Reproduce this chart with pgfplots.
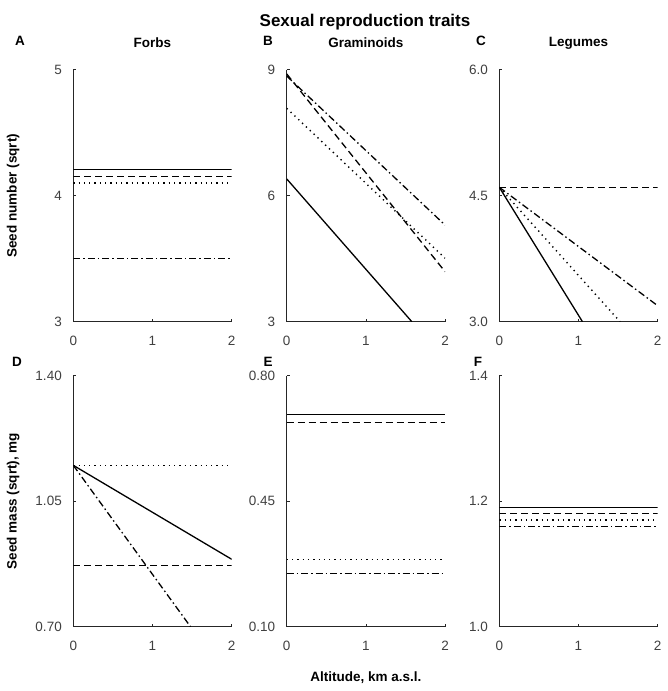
\documentclass[border=0pt]{standalone}
\usepackage{fontspec}
\setmainfont{Liberation Sans}
\usepackage{pgfplots}
\pgfplotsset{compat=1.18}

\definecolor{ticktext}{RGB}{64,64,64}

\pgfplotsset{
  panel/.style={
    scale only axis, width=158.4pt,
    xmin=0, xmax=2, xtick={0,1,2},
    axis x line*=bottom, axis y line*=left,
    axis line style={-, black!85, line width=0.8pt},
    tick align=inside, major tick length=3pt,
    tick style={black!85, line width=0.6pt},
    /pgf/number format/assume math mode=true,
    ticklabel style={font=\fontsize{13.5}{14}\selectfont, text=ticktext},
    xticklabel style={yshift=-11pt},
    yticklabel style={xshift=-8pt},
    title style={font=\fontsize{13.5}{15}\selectfont\bfseries, anchor=center, at={(axis description cs:0.5,1.082)}},
    ylabel style={font=\fontsize{13.5}{15}\selectfont\bfseries, anchor=center, at={(axis description cs:-0.38,0.5)}},
    xlabel style={font=\fontsize{13.5}{15}\selectfont\bfseries, anchor=center},
  },
  top/.style={panel, height=252pt},
  bot/.style={panel, height=251pt},
  s1/.style={black, line width=1.3pt},
  s2/.style={black, line width=1.3pt, dash pattern=on 7pt off 4pt},
  s3/.style={black, line width=1.4pt, dash pattern=on 1.3pt off 4pt},
  s4/.style={black, line width=1.3pt, dash pattern=on 7pt off 3pt on 1.5pt off 3pt},
}

\begin{document}
\begin{tikzpicture}[x=1pt,y=1pt]
\useasboundingbox (0,0) rectangle (667,691);

\node[font=\fontsize{17}{19}\selectfont\bfseries] at (365,669) {Sexual reproduction traits};
\foreach \l/\px/\py in {A/20/650.3, B/268/650.3, C/481/650.3, D/17/329.3, E/268/329.3, F/478/329.3}
  \node[font=\fontsize{13.5}{15}\selectfont\bfseries] at (\px,\py) {\l};

% A: Forbs, seed number
\begin{axis}[top, at={(73.3pt,369.3pt)}, anchor=south west,
  ymin=3, ymax=5, ytick={3,4,5}, title={Forbs}, ylabel={Seed number (sqrt)}]
  \addplot[s1] coordinates {(0,4.21) (2,4.21)};
  \addplot[s2] coordinates {(0,4.155) (2,4.155)};
  \addplot[s3] coordinates {(0,4.10) (2,4.10)};
  \addplot[s4] coordinates {(0,3.50) (2,3.50)};
\end{axis}

% B: Graminoids, seed number
\begin{axis}[top, at={(286.7pt,369.3pt)}, anchor=south west,
  ymin=3, ymax=9, ytick={3,6,9}, title={Graminoids}]
  \addplot[s1] coordinates {(0,6.40) (1.58,3.00)};
  \addplot[s2] coordinates {(0,8.90) (2,4.19)};
  \addplot[s3] coordinates {(0,8.08) (2,4.51)};
  \addplot[s4] coordinates {(0,8.85) (2,5.30)};
\end{axis}

% C: Legumes, seed number
\begin{axis}[top, at={(499.3pt,369.3pt)}, anchor=south west,
  ymin=3, ymax=6, ytick={3,4.5,6}, yticklabels={3.0,4.5,6.0}, title={Legumes}]
  \addplot[s1] coordinates {(0,4.60) (1.05,3.00)};
  \addplot[s2] coordinates {(0,4.60) (2,4.60)};
  \addplot[s3] coordinates {(0,4.60) (1.525,3.00)};
  \addplot[s4] coordinates {(0,4.60) (2,3.19)};
\end{axis}

% D: Forbs, seed mass
\begin{axis}[bot, at={(73.3pt,64.3pt)}, anchor=south west,
  ymin=0.70, ymax=1.40, ytick={0.70,1.05,1.40}, yticklabels={0.70,1.05,1.40},
  ylabel={Seed mass (sqrt), mg}]
  \addplot[s1] coordinates {(0,1.15) (2,0.888)};
  \addplot[s2] coordinates {(0,0.87) (2,0.87)};
  \addplot[s3] coordinates {(0,1.15) (2,1.15)};
  \addplot[s4] coordinates {(0,1.15) (1.48,0.70)};
\end{axis}

% E: Graminoids, seed mass
\begin{axis}[bot, at={(286.7pt,64.3pt)}, anchor=south west,
  ymin=0.10, ymax=0.80, ytick={0.10,0.45,0.80}, yticklabels={0.10,0.45,0.80},
  xlabel={Altitude, km a.s.l.}, xlabel style={at={(axis description cs:0.5,-0.204)}}]
  \addplot[s1] coordinates {(0,0.692) (2,0.692)};
  \addplot[s2] coordinates {(0,0.670) (2,0.670)};
  \addplot[s3] coordinates {(0,0.288) (2,0.288)};
  \addplot[s4] coordinates {(0,0.249) (2,0.249)};
\end{axis}

% F: Legumes, seed mass
\begin{axis}[bot, at={(499.3pt,64.3pt)}, anchor=south west,
  ymin=1.0, ymax=1.4, ytick={1.0,1.2,1.4}, yticklabels={1.0,1.2,1.4}]
  \addplot[s1] coordinates {(0,1.19) (2,1.19)};
  \addplot[s2] coordinates {(0,1.18) (2,1.18)};
  \addplot[s3] coordinates {(0,1.17) (2,1.17)};
  \addplot[s4] coordinates {(0,1.16) (2,1.16)};
\end{axis}
\end{tikzpicture}
\end{document}
